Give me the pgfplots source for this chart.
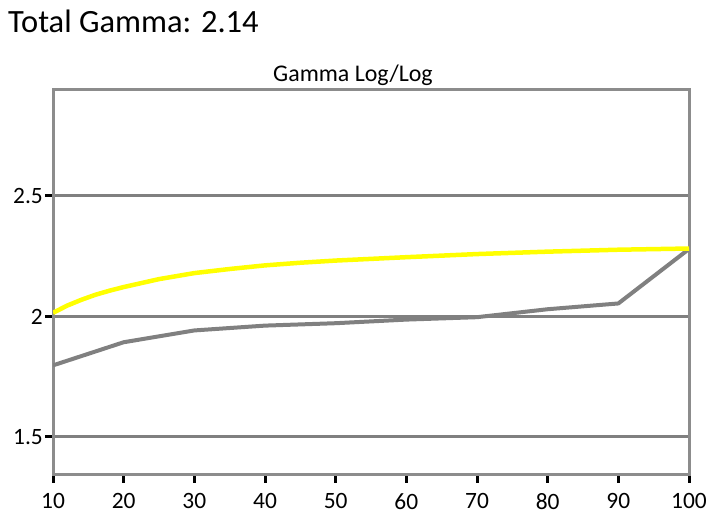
\documentclass[border=0pt]{standalone}
\usepackage{fontspec}
\setmainfont{Carlito}
\usepackage{pgfplots}
\pgfplotsset{compat=1.18}
\definecolor{axisgray}{RGB}{140,140,140}
\definecolor{linegray}{RGB}{128,128,128}
\definecolor{gammayellow}{RGB}{255,255,0}

\begin{document}
\begin{tikzpicture}[x=1bp,y=1bp]
\path[use as bounding box] (0,0) rectangle (718,519);
\node[anchor=base west, inner sep=0pt, font=\fontsize{32.6}{38}\selectfont] at (8,486) {Total Gamma: 2.14};
\node[anchor=base, inner sep=0pt, font=\fontsize{24}{28}\selectfont] at (353,437) {Gamma Log/Log};
\begin{axis}[
  at={(53bp,44bp)}, anchor=south west,
  scale only axis, width=636bp, height=385bp,
  xmin=10, xmax=100, ymin=1.342, ymax=2.94,
  xtick={10,20,...,100}, ytick={1.5,2,2.5},
  axis line style={axisgray, line width=3bp},
  ymajorgrids, grid style={linegray, line width=3bp},
  major tick style={black, line width=3bp},
  tick align=outside, major tick length=8bp, tick pos=left,
  /pgf/number format/assume math mode=true,
  ticklabel style={font=\fontsize{23.5}{28}\selectfont, inner sep=0pt},
  xticklabel style={anchor=north, yshift=-10bp},
  yticklabel style={anchor=east, xshift=-2bp},
]
\addplot[linegray, line width=4bp, line join=round] coordinates {
  (10,1.797) (20,1.893) (30,1.942) (40,1.962) (50,1.972)
  (60,1.987) (70,1.997) (80,2.030) (90,2.054) (100,2.280)
};
\addplot[gammayellow, line width=4.5bp, line join=round] coordinates {
  (10,2.015) (12,2.045) (14,2.069) (16,2.090) (18,2.107) (20,2.122)
  (25,2.155) (30,2.180) (35,2.197) (40,2.212) (45,2.223) (50,2.232)
  (60,2.246) (70,2.259) (80,2.269) (90,2.277) (100,2.282)
};
\end{axis}
\end{tikzpicture}
\end{document}
